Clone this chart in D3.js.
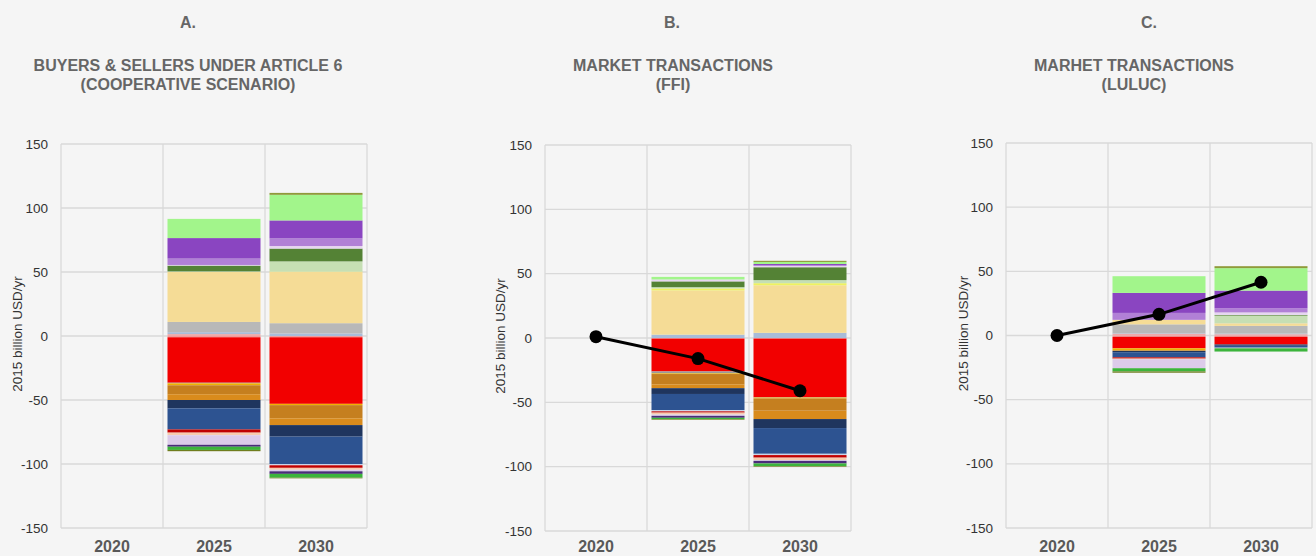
<!DOCTYPE html>
<html>
<head>
<meta charset="utf-8">
<script src="https://cdn.jsdelivr.net/npm/d3@7"></script>
<style>
  body { margin: 0; background: #f5f5f5; }
  svg { display: block; font-family: "Liberation Sans", Arial, sans-serif; }
</style>
</head>
<body>
<div id="chart"></div>
<script>
var width = 1316, height = 556;

var years = ["2020", "2025", "2030"];
var yTicks = [-150, -100, -50, 0, 50, 100, 150];

// stacked series, in stacking order (positives go up, negatives go down)
var seriesKeys = ["pink", "lightBlue", "gray", "wheat", "yellow", "paleGreen", "darkGreen",
  "paleLavender", "lightPurple", "purple", "lightGreen", "olive",
  "salmon", "red", "grayThin", "amber", "brown", "orange", "navy", "blue", "lightThin",
  "darkRed", "peach", "lavender", "darkPurple", "green", "oliveNeg"];
var seriesColors = ["#f0a8a8", "#a9bcd8", "#b8b8b8", "#f5dc96", "#eef260", "#c6dfb4", "#548235",
  "#e6d6f0", "#b180d6", "#8a45c1", "#a2f58b", "#8f9a3a",
  "#f29a9a", "#f20000", "#9a9a9a", "#f0b000", "#c57f1f", "#d98b1c", "#1f355e", "#2d5391", "#c8d4e8",
  "#c00000", "#f8cbad", "#dccbea", "#4a2c7a", "#3cb43c", "#6f7d1e"];

// segment heights per series (billion USD/yr), 2020 is empty in every panel
var panelA2025 = [1.5, 1.5, 8, 39, 0, 0.5, 4.5, 0.5, 5, 16, 15, 0,
  -1, -35.5, -0.5, -1.5, -7, -4.5, -6.5, -16.5, 0, -2.5, -2, -7.5, -1.5, -2.5, -1];
var panelA2030 = [0, 2, 8, 40, 0.3, 8, 10, 2, 6, 14, 20, 1.5,
  -1, -52, 0, -1, -10.3, -5.3, -9, -21.4, -1, -2, -1.5, -1.2, -2, -3, -0.5];
var panelB2025 = [0, 2.6, 0, 34.4, 1.5, 1, 4.5, 1.5, 0, 0, 2, 0,
  -0.5, -25.5, -1.5, -0.5, -8, -3, -4.5, -12.5, -1, -1, -1.5, -1, -1.5, -1, -0.5];
var panelB2030 = [0, 4, 0, 37, 1.6, 2.4, 10, 1, 0.5, 1, 1.6, 0.9,
  -0.5, -45.5, -0.3, -0.7, -9.5, -6.5, -7, -20, -1, -2, -2, -0.5, -2, -2, -0.5];
var panelC2025 = [1.3, 0.4, 7, 3.5, 0, 0, 0, 0, 5.4, 15.6, 13, 0,
  -1, -9, 0, -1.5, 0, -0.5, -1, -4, 0, -1, -0.5, -7, 0, -2.5, -1];
var panelC2030 = [1, 0.5, 6, 2, 0, 6, 0.5, 2, 3.3, 13.7, 17.5, 1.5,
  -1, -6, 0, 0, 0, 0, -1, -1.5, -0.5, 0, 0, 0, 0, -2.5, 0];

// net balance lines (panels B and C)
var lineB = [1, -16, -41];
var lineC = [0, 16.5, 41.5];

var panels = [
  { letter: "A.", title: ["BUYERS & SELLERS UNDER ARTICLE 6", "(COOPERATIVE SCENARIO)"],
    bars: [null, panelA2025, panelA2030], line: null,
    left: 61, right: 367, top: 144, bottom: 528, cx: 188, letterX: 188, axisX: 22 },
  { letter: "B.", title: ["MARKET TRANSACTIONS", "(FFI)"],
    bars: [null, panelB2025, panelB2030], line: lineB,
    left: 545, right: 851, top: 145, bottom: 531, cx: 673, letterX: 672, axisX: 505 },
  { letter: "C.", title: ["MARHET TRANSACTIONS", "(LULUC)"],
    bars: [null, panelC2025, panelC2030], line: lineC,
    left: 1006, right: 1312, top: 143, bottom: 528, cx: 1134, letterX: 1149, axisX: 968 }
];

var svg = d3.select("#chart").append("svg")
  .attr("width", width)
  .attr("height", height);

svg.append("rect").attr("width", width).attr("height", height).attr("fill", "#f5f5f5");

panels.forEach(function(p) {
  var g = svg.append("g");

  var x = d3.scaleBand().domain(years).range([p.left, p.right]).padding(0);
  var y = d3.scaleLinear().domain([-150, 150]).range([p.bottom, p.top]);

  // titles
  g.append("text")
    .attr("x", p.letterX).attr("y", 28)
    .attr("text-anchor", "middle")
    .attr("font-size", 16).attr("font-weight", "bold")
    .attr("fill", "#666")
    .text(p.letter);
  g.selectAll(".sub")
    .data(p.title)
    .enter().append("text")
    .attr("x", p.cx)
    .attr("y", function(d, i) { return 71 + i * 18.5; })
    .attr("text-anchor", "middle")
    .attr("font-size", 16).attr("font-weight", "bold")
    .attr("fill", "#666")
    .text(function(d) { return d; });

  // grid
  g.selectAll(".hgrid")
    .data(yTicks)
    .enter().append("line")
    .attr("x1", p.left).attr("x2", p.right)
    .attr("y1", function(d) { return y(d); })
    .attr("y2", function(d) { return y(d); })
    .attr("stroke", "#d9d9d9").attr("stroke-width", 1.3);
  var vlines = years.map(function(d) { return x(d); }).concat([p.right]);
  g.selectAll(".vgrid")
    .data(vlines)
    .enter().append("line")
    .attr("x1", function(d) { return d; }).attr("x2", function(d) { return d; })
    .attr("y1", p.top).attr("y2", p.bottom)
    .attr("stroke", "#d9d9d9").attr("stroke-width", 1.3);

  // y tick labels
  g.selectAll(".ytick")
    .data(yTicks)
    .enter().append("text")
    .attr("x", p.left - 13)
    .attr("y", function(d) { return y(d) + 4.5; })
    .attr("text-anchor", "end")
    .attr("font-size", 13.5)
    .attr("fill", "#333")
    .text(function(d) { return d; });

  // axis title
  g.append("text")
    .attr("transform", "translate(" + p.axisX + "," + ((p.top + p.bottom) / 2 - 2) + ") rotate(-90)")
    .attr("text-anchor", "middle")
    .attr("font-size", 13.5)
    .attr("fill", "#333")
    .text("2015 billion USD/yr");

  // x labels
  g.selectAll(".xlab")
    .data(years)
    .enter().append("text")
    .attr("x", function(d) { return x(d) + x.bandwidth() / 2; })
    .attr("y", 552)
    .attr("text-anchor", "middle")
    .attr("font-size", 16).attr("font-weight", "bold")
    .attr("fill", "#595959")
    .text(function(d) { return d; });

  // stacked bars
  var rows = years.map(function(yr, i) {
    var row = { year: yr };
    seriesKeys.forEach(function(k, j) { row[k] = p.bars[i] ? p.bars[i][j] : 0; });
    return row;
  });
  var stack = d3.stack().keys(seriesKeys).offset(d3.stackOffsetDiverging);
  var layers = stack(rows);

  var inset = 4.5;
  g.selectAll(".layer")
    .data(layers)
    .enter().append("g")
    .attr("fill", function(d, i) { return seriesColors[i]; })
    .selectAll("rect")
    .data(function(d) { return d.filter(function(s) { return s[1] - s[0] !== 0; }); })
    .enter().append("rect")
    .attr("x", function(d) { return x(d.data.year) + inset; })
    .attr("width", x.bandwidth() - 2 * inset)
    .attr("y", function(d) { return y(Math.max(d[0], d[1])); })
    .attr("height", function(d) { return Math.abs(y(d[0]) - y(d[1])); });

  // net line
  if (p.line) {
    var pts = years.map(function(yr, i) { return [x(yr) + x.bandwidth() / 2, y(p.line[i])]; });
    g.append("path")
      .attr("d", d3.line()(pts))
      .attr("fill", "none")
      .attr("stroke", "#000")
      .attr("stroke-width", 3);
    g.selectAll(".dot")
      .data(pts)
      .enter().append("circle")
      .attr("cx", function(d) { return d[0]; })
      .attr("cy", function(d) { return d[1]; })
      .attr("r", 6.5)
      .attr("fill", "#000");
  }
});
</script>
</body>
</html>
